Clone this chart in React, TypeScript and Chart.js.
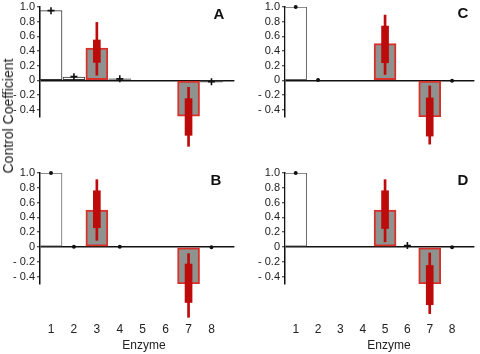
import React, { useEffect, useRef } from 'react';
import { Chart, registerables } from 'chart.js';

Chart.register(...registerables);

// ---------- data ----------
const enzymes = [1, 2, 3, 4, 5, 6, 7, 8];
const xTickLabels = ['1', '2', '3', '4', '5', '6', '7', '8'];
const yTickValues = [-0.4, -0.2, 0, 0.2, 0.4, 0.6, 0.8, 1.0];
const yTickLabels = ['- 0.4', '- 0.2', '0', '0.2', '0.4', '0.6', '0.8', '1.0'];

// control coefficients (bar heights) per enzyme
const coefA = [0.95, 0.045, 0.44, 0.02, 0, 0, -0.49, -0.02];
const coefB = [1.0, 0, 0.5, 0, 0, 0, -0.5, 0];
const coefC = [1.0, 0, 0, 0, 0.5, 0, -0.5, 0];
const coefD = [1.0, 0, 0, 0, 0.5, 0.015, -0.5, 0];

// interquartile boxes: [enzyme, low, high]
const boxA = [[3, 0.245, 0.55], [7, -0.75, -0.25]];
const boxB = [[3, 0.26, 0.76], [7, -0.75, -0.23]];
const boxC = [[5, 0.24, 0.74], [7, -0.76, -0.24]];
const boxD = [[5, 0.25, 0.76], [7, -0.78, -0.25]];

// whiskers: [enzyme, low, high]
const whiskerA = [[3, 0.07, 0.79], [7, -0.9, -0.095]];
const whiskerB = [[3, 0.09, 0.91], [7, -0.95, -0.09]];
const whiskerC = [[5, 0.08, 0.89], [7, -0.87, -0.076]];
const whiskerD = [[5, 0.07, 0.91], [7, -0.9, -0.08]];

// small error markers: [enzyme, value]
const markA = [[1, 0.95], [2, 0.05], [4, 0.02], [8, -0.02]];
const markB = [[1, 1.0], [2, 0.005], [4, 0.005], [8, -0.005]];
const markC = [[1, 1.0], [2, 0.005], [8, -0.005]];
const markD = [[1, 1.0], [6, 0.02], [8, -0.005]];

// ---------- styles ----------
const GRAY = '#8e938f';
const RED = '#d8312c';
const BOX_RED = '#bd0a0a';
const FONT = 'Liberation Sans, Arial, Helvetica, sans-serif';

const styleA = ['openDark', 'openDark', 'main', 'small', 'none', 'none', 'main', 'dark'];
const styleB = ['open', 'none', 'main', 'none', 'none', 'none', 'main', 'none'];
const styleC = ['open', 'none', 'none', 'none', 'main', 'none', 'main', 'none'];
const styleD = ['open', 'none', 'none', 'none', 'main', 'none', 'main', 'none'];

const fillOf: Record<string, string> = {
  open: '#ffffff', openDark: '#ffffff', main: GRAY, small: GRAY, dark: '#555555', none: 'rgba(0,0,0,0)',
};
const borderOf: Record<string, string> = {
  open: '#666666', openDark: '#333333', main: RED, small: '#888888', dark: '#333333', none: 'rgba(0,0,0,0)',
};
const borderWidthOf: Record<string, number> = {
  open: 1, openDark: 1, main: 2, small: 0, dark: 0, none: 0,
};

type PanelProps = {
  coef: number[];
  box: number[][];
  whisker: number[][];
  marks: number[][];
  styles: string[];
  crossMarks: number[];
  showX: boolean;
  width: number;
  height: number;
  padTop: number;
  padBottom: number;
  padRight: number;
};

function zeroPadding(s: any) {
  s.paddingLeft = 0;
  s.paddingRight = 0;
  s.paddingTop = 0;
  s.paddingBottom = 0;
}

function Panel(p: PanelProps) {
  const ref = useRef<HTMLCanvasElement | null>(null);
  useEffect(() => {
    if (!ref.current) return;
    const chart = new Chart(ref.current, {
      type: 'bar',
      data: {
        datasets: [
          {
            type: 'scatter',
            data: p.marks.map(([x, y]) => ({ x, y })),
            pointStyle: p.marks.map(([x]) => (p.crossMarks.includes(x) ? 'cross' : 'circle')) as any,
            pointRadius: p.marks.map(([x]) => (p.crossMarks.includes(x) ? 3.5 : 1.2)) as any,
            pointBorderWidth: 1.6,
            borderColor: '#111',
            backgroundColor: '#111',
            order: 0,
            clip: false,
          } as any,
          {
            label: 'box',
            data: p.box.map(([x, lo, hi]) => ({ x, y: [lo, hi] })),
            backgroundColor: BOX_RED,
            borderWidth: 0,
            barThickness: 7,
            grouped: false,
            order: 1,
            clip: false,
          } as any,
          {
            label: 'whisker',
            data: p.whisker.map(([x, lo, hi]) => ({ x, y: [lo, hi] })),
            backgroundColor: BOX_RED,
            borderWidth: 0,
            barThickness: 2,
            grouped: false,
            order: 2,
            clip: false,
          } as any,
          {
            label: 'coefficient',
            data: enzymes.map((x, i) => ({ x, y: p.coef[i] })),
            backgroundColor: p.styles.map((s) => fillOf[s]),
            borderColor: p.styles.map((s) => borderOf[s]),
            borderWidth: p.styles.map((s) => borderWidthOf[s]),
            borderSkipped: false,
            barThickness: 22,
            grouped: false,
            order: 3,
          } as any,
        ],
      },
      options: {
        animation: false,
        responsive: false,
        devicePixelRatio: 1,
        layout: { padding: { top: p.padTop, bottom: p.padBottom, left: 0, right: p.padRight } },
        plugins: { legend: { display: false }, tooltip: { enabled: false } },
        scales: {
          x: {
            type: 'linear',
            min: 0.52,
            max: 9,
            bounds: 'data',
            offset: false,
            display: p.showX,
            grid: { display: false, drawTicks: false },
            border: { display: false },
            afterBuildTicks: (s: any) => {
              s.ticks = enzymes.map((v) => ({ value: v }));
              s.min = 0.52;
              s.max = 9;
            },
            afterFit: (s: any) => {
              s.height = p.showX ? 70 : 0;
              zeroPadding(s);
            },
            ticks: {
              autoSkip: false,
              maxRotation: 0,
              padding: 38,
              color: '#222',
              font: { family: FONT, size: 12 },
              callback: (v: any) => xTickLabels[enzymes.indexOf(Number(v))],
            },
          },
          y: {
            type: 'linear',
            min: -0.5,
            max: 1.0,
            bounds: 'data',
            afterBuildTicks: (s: any) => {
              s.ticks = yTickValues.map((v) => ({ value: v }));
              s.min = -0.5;
              s.max = 1.0;
            },
            afterFit: (s: any) => {
              s.width = 40;
              zeroPadding(s);
            },
            ticks: {
              autoSkip: false,
              padding: 2,
              color: '#222',
              font: { family: FONT, size: 11 },
              callback: (v: any) => yTickLabels[yTickValues.indexOf(Number(v))],
            },
            grid: {
              color: (ctx: any) => (ctx.tick && ctx.tick.value === 0 ? '#111' : 'rgba(0,0,0,0)'),
              lineWidth: 1.5,
              tickColor: '#222',
              tickLength: 3,
              tickWidth: 1,
              drawTicks: true,
            },
            border: { display: true, color: '#111', width: 1.5 },
          },
        },
      } as any,
    });
    return () => chart.destroy();
  }, []);
  return <canvas ref={ref} width={p.width} height={p.height} style={{ display: 'block' }} />;
}

const letterStyle: React.CSSProperties = {
  position: 'absolute',
  fontFamily: FONT,
  fontWeight: 'bold',
  fontSize: 15,
  color: '#111',
  transform: 'translate(-50%, -50%)',
  lineHeight: 1,
};

const textStyle: React.CSSProperties = {
  position: 'absolute',
  fontFamily: FONT,
  fontSize: 12,
  color: '#222',
  transform: 'translate(-50%, -50%)',
  whiteSpace: 'nowrap',
  lineHeight: 1,
};

export default function App() {
  return (
    <div style={{ position: 'absolute', left: 0, top: 0, width: 480, height: 354, overflow: 'hidden', background: '#fff' }}>
      <div style={{ position: 'absolute', left: 0, top: 0 }}>
        <Panel coef={coefA} box={boxA} whisker={whiskerA} marks={markA} styles={styleA} crossMarks={[1, 2, 4, 8]}
          showX={false} width={240} height={165} padTop={7} padBottom={48} padRight={5} />
      </div>
      <div style={{ position: 'absolute', left: 245, top: 0 }}>
        <Panel coef={coefC} box={boxC} whisker={whiskerC} marks={markC} styles={styleC} crossMarks={[]}
          showX={false} width={235} height={165} padTop={7} padBottom={48} padRight={0} />
      </div>
      <div style={{ position: 'absolute', left: 0, top: 165 }}>
        <Panel coef={coefB} box={boxB} whisker={whiskerB} marks={markB} styles={styleB} crossMarks={[]}
          showX={true} width={240} height={189} padTop={8} padBottom={0} padRight={5} />
      </div>
      <div style={{ position: 'absolute', left: 245, top: 165 }}>
        <Panel coef={coefD} box={boxD} whisker={whiskerD} marks={markD} styles={styleD} crossMarks={[6]}
          showX={true} width={235} height={189} padTop={8} padBottom={0} padRight={0} />
      </div>
      <div style={{ ...letterStyle, left: 219, top: 13 }}>A</div>
      <div style={{ ...letterStyle, left: 463, top: 12 }}>C</div>
      <div style={{ ...letterStyle, left: 216, top: 179 }}>B</div>
      <div style={{ ...letterStyle, left: 463, top: 179 }}>D</div>
      <div style={{ ...textStyle, left: 144, top: 345 }}>Enzyme</div>
      <div style={{ ...textStyle, left: 389, top: 345 }}>Enzyme</div>
      <div style={{ ...textStyle, fontSize: 14, left: 8, top: 116, transform: 'translate(-50%, -50%) rotate(-90deg)' }}>
        Control Coefficient
      </div>
    </div>
  );
}
